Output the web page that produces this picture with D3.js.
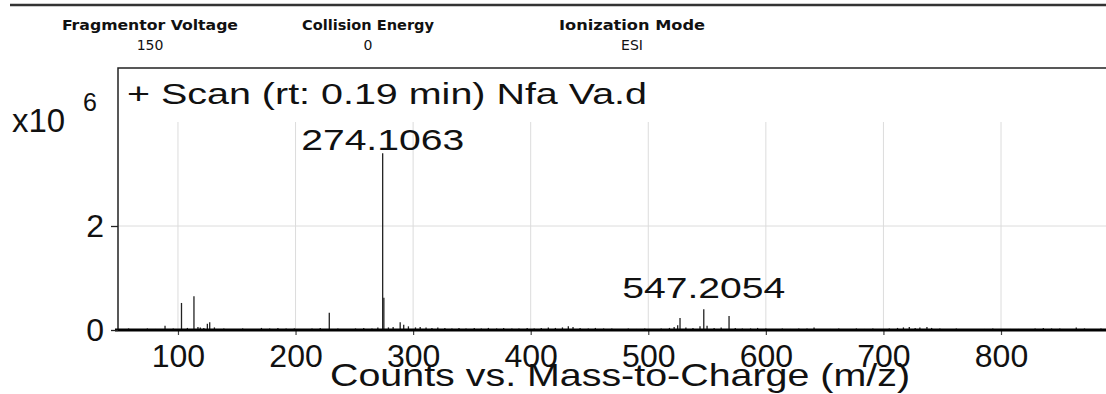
<!DOCTYPE html>
<html>
<head>
<meta charset="utf-8">
<script src="https://cdn.jsdelivr.net/npm/d3@7"></script>
<style>
  body { margin: 0; background: #fff; }
  svg { display: block; }
  text { font-family: "Liberation Sans", Arial, sans-serif; fill: #111; }
</style>
</head>
<body>
<div id="my_dataviz"></div>
<script>
// header info
var headerLabels = ["Fragmentor Voltage", "Collision Energy", "Ionization Mode"];
var headerValues = ["150", "0", "ESI"];

// labelled peaks
var labelMz = [274.1063, 547.2054];

// main peaks (m/z, counts x10^6)
var peakMz     = [103.0, 113.6, 228.7, 274.1063, 275.11, 527.0, 547.2054, 568.7, 125.0, 127.0, 89.0, 289.0, 292.0, 296.0];
var peakCounts = [0.52,  0.65,  0.33,  3.40,     0.62,   0.23,  0.40,     0.27,  0.12,  0.15,  0.08, 0.15,  0.10,  0.07];

// small noise sticks along the baseline
var noiseMz = [58, 66, 74, 81, 96, 108, 117, 119, 122, 131, 139, 147, 155, 163, 171, 178, 185, 192, 199, 207,
  214, 221, 236, 243, 251, 258, 265, 270, 279, 283, 302, 306, 311, 316, 321, 327, 333, 339, 345, 352,
  358, 364, 371, 377, 384, 390, 397, 403, 409, 415, 421, 427, 432, 436, 442, 449, 455, 462, 469, 476,
  483, 490, 497, 504, 511, 518, 522, 525, 532, 538, 544, 550, 556, 562, 574, 580, 587, 593, 600, 607,
  614, 621, 628, 635, 641, 648, 655, 662, 670, 677, 684, 691, 698, 705, 712, 717, 722, 727, 731, 737,
  741, 748, 755, 762, 770, 778, 786, 793, 800, 808, 815, 822, 829, 836, 843, 850, 857, 864, 871, 878, 885];
var noiseCounts = [0.03, 0.02, 0.03, 0.02, 0.03, 0.04, 0.06, 0.05, 0.04, 0.05, 0.03, 0.02, 0.03, 0.02, 0.04, 0.03, 0.04, 0.03, 0.03, 0.02,
  0.03, 0.04, 0.03, 0.02, 0.03, 0.04, 0.03, 0.05, 0.05, 0.06, 0.05, 0.06, 0.05, 0.04, 0.05, 0.04, 0.03, 0.04, 0.03, 0.04,
  0.03, 0.04, 0.03, 0.04, 0.03, 0.03, 0.04, 0.03, 0.04, 0.05, 0.04, 0.05, 0.07, 0.06, 0.04, 0.03, 0.04, 0.03, 0.03, 0.02,
  0.03, 0.02, 0.03, 0.02, 0.03, 0.04, 0.06, 0.09, 0.05, 0.04, 0.07, 0.08, 0.04, 0.05, 0.04, 0.03, 0.03, 0.04, 0.03, 0.02,
  0.03, 0.02, 0.03, 0.03, 0.05, 0.02, 0.02, 0.03, 0.02, 0.03, 0.02, 0.03, 0.02, 0.03, 0.04, 0.05, 0.06, 0.04, 0.05, 0.06,
  0.04, 0.03, 0.02, 0.03, 0.02, 0.02, 0.02, 0.03, 0.02, 0.02, 0.02, 0.02, 0.03, 0.04, 0.03, 0.03, 0.02, 0.05, 0.03, 0.02, 0.03];

var xTicks = [100, 200, 300, 400, 500, 600, 700, 800];
var yTicks = [0, 2];

var W = 1106, H = 394;
var plotLeft = 118, plotRight = 1106, plotTop = 68, plotBottom = 330;

var svg = d3.select("#my_dataviz")
  .append("svg")
    .attr("width", W)
    .attr("height", H);

// header rule
svg.append("line")
  .attr("x1", 10).attr("x2", W).attr("y1", 5).attr("y2", 5)
  .attr("stroke", "#333").attr("stroke-width", 2.5);

var headerX = [150, 368, 632];
var headerW = [176, 132, 146];
headerLabels.forEach(function(t, i) {
  svg.append("text")
    .attr("x", headerX[i]).attr("y", 30)
    .attr("text-anchor", "middle")
    .attr("textLength", headerW[i]).attr("lengthAdjust", "spacingAndGlyphs")
    .style("font-family", "'DejaVu Sans Condensed', 'DejaVu Sans', sans-serif")
    .style("font-weight", "bold").style("font-size", "14px")
    .text(t);
  svg.append("text")
    .attr("x", headerX[i]).attr("y", 50)
    .attr("text-anchor", "middle")
    .style("font-family", "'DejaVu Sans', sans-serif")
    .style("font-size", "14px")
    .text(headerValues[i]);
});

// scales
var x = d3.scaleLinear().domain([49, 889.3]).range([plotLeft, plotRight]);
var y = d3.scaleLinear().domain([0, 4]).range([plotBottom, 122]);

// grid
svg.append("g").selectAll("line")
  .data(xTicks).enter().append("line")
    .attr("x1", function(d) { return x(d); }).attr("x2", function(d) { return x(d); })
    .attr("y1", y(4)).attr("y2", plotBottom)
    .attr("stroke", "#dcdcdc").attr("stroke-width", 1);
svg.append("g").selectAll("line")
  .data(yTicks.filter(function(d) { return d > 0; })).enter().append("line")
    .attr("x1", plotLeft).attr("x2", plotRight)
    .attr("y1", function(d) { return y(d); }).attr("y2", function(d) { return y(d); })
    .attr("stroke", "#dcdcdc").attr("stroke-width", 1);

// plot frame (top + left)
svg.append("path")
  .attr("d", "M" + plotRight + "," + plotTop + "H" + plotLeft + "V" + plotBottom)
  .attr("fill", "none").attr("stroke", "#222").attr("stroke-width", 1.5);

// sticks
var sticks = noiseMz.map(function(m, i) { return {mz: m, c: noiseCounts[i]}; })
  .concat(peakMz.map(function(m, i) { return {mz: m, c: peakCounts[i]}; }));
svg.append("g").selectAll("line")
  .data(sticks).enter().append("line")
    .attr("x1", function(d) { return x(d.mz); }).attr("x2", function(d) { return x(d.mz); })
    .attr("y1", plotBottom).attr("y2", function(d) { return y(d.c); })
    .attr("stroke", "#222").attr("stroke-width", 1.3);

// x axis
var xAxis = svg.append("g")
  .attr("transform", "translate(0," + plotBottom + ")")
  .call(d3.axisBottom(x).tickValues(xTicks).tickSize(5).tickFormat(d3.format("d")));
xAxis.select(".domain").remove();
xAxis.selectAll(".tick line").attr("stroke", "#444").attr("stroke-width", 1.2);
xAxis.selectAll(".tick text")
  .attr("y", 37).attr("dy", null)
  .style("font-family", "'Liberation Sans', Arial, sans-serif")
  .style("font-size", "32px").attr("fill", "#111");
svg.append("line")
  .attr("x1", plotLeft - 3).attr("x2", plotRight).attr("y1", plotBottom).attr("y2", plotBottom)
  .attr("stroke", "#000").attr("stroke-width", 3);

// y axis
var yAxis = svg.append("g")
  .attr("transform", "translate(" + plotLeft + ",0)")
  .call(d3.axisLeft(y).tickValues(yTicks).tickSize(7).tickFormat(d3.format("d")));
yAxis.select(".domain").remove();
yAxis.selectAll(".tick line").attr("stroke", "#222").attr("stroke-width", 1.3);
yAxis.selectAll(".tick text")
  .attr("x", -14)
  .style("font-family", "'Liberation Sans', Arial, sans-serif")
  .style("font-size", "32px").attr("fill", "#111");

// exponent label
svg.append("text").attr("x", 12).attr("y", 132)
  .style("font-size", "33px").text("x10");
svg.append("text").attr("x", 83).attr("y", 111)
  .style("font-size", "25px").text("6");

// scan title
svg.append("text").attr("x", 127).attr("y", 104)
  .attr("textLength", 520).attr("lengthAdjust", "spacingAndGlyphs")
  .style("font-size", "29px").text("+ Scan (rt: 0.19 min) Nfa Va.d");

// peak labels
svg.append("g").selectAll("text")
  .data(labelMz).enter().append("text")
    .attr("x", function(d) { return x(d); })
    .attr("y", function(d, i) { return i === 0 ? 150 : 298; })
    .attr("text-anchor", "middle")
    .attr("textLength", 163).attr("lengthAdjust", "spacingAndGlyphs")
    .style("font-size", "30px")
    .text(function(d) { return d3.format(".4f")(d); });

// axis title
svg.append("text").attr("x", 620).attr("y", 386)
  .attr("text-anchor", "middle")
  .attr("textLength", 580).attr("lengthAdjust", "spacingAndGlyphs")
  .style("font-size", "32px").text("Counts vs. Mass-to-Charge (m/z)");
</script>
</body>
</html>
